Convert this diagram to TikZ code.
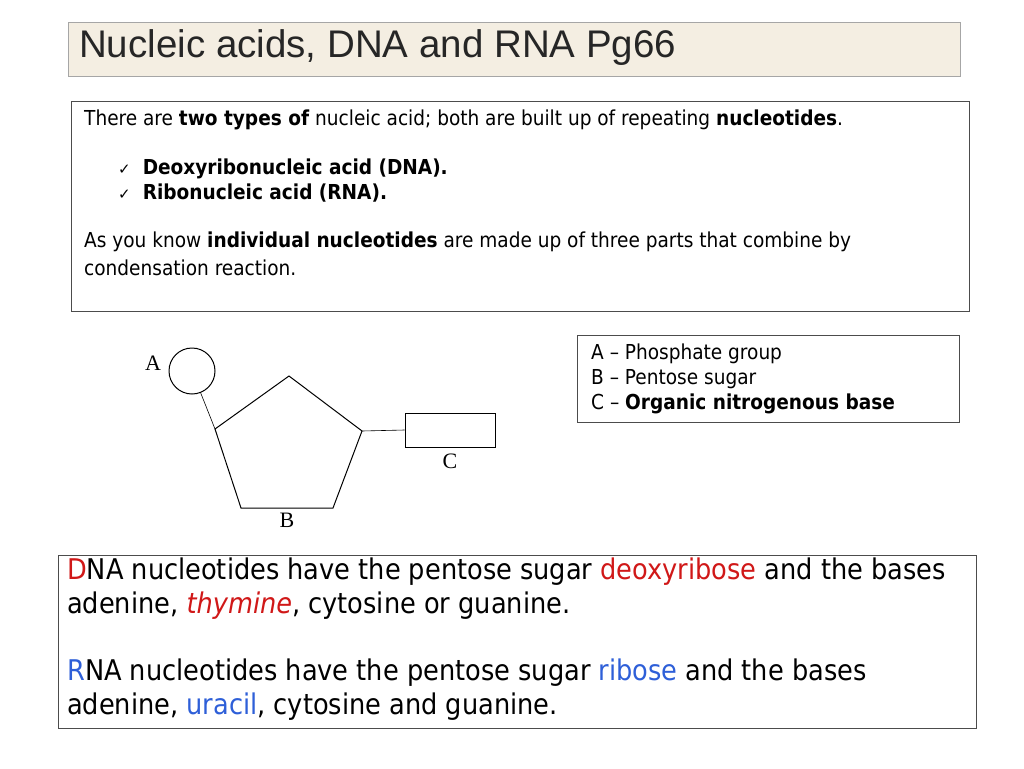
\documentclass[tikz,border=0pt]{standalone}
\usepackage{fontspec}
\setmainfont{DejaVu Sans Condensed}
\newfontfamily\titlefont{Liberation Sans}
\newfontfamily\serifl{Liberation Serif}
\newfontfamily\sym{DejaVu Sans}
\definecolor{dnared}{HTML}{D01818}
\definecolor{rnablue}{HTML}{2E5FD8}
\definecolor{titlefill}{HTML}{F4EEE2}
\begin{document}
\begin{tikzpicture}[x=1pt,y=-1pt,
  box/.style={draw=black!70,line width=0.8pt},
  lbl/.style={font=\serifl\fontsize{22}{22}\selectfont,inner sep=0pt},
  txt/.style={anchor=west,inner sep=0pt,font=\fontsize{20.6}{24}\selectfont},
  big/.style={anchor=west,inner sep=0pt,font=\fontsize{28.5}{32}\selectfont}]
\useasboundingbox (0,0) rectangle (1024,768);
% title
\node[box,draw=black!35,fill=titlefill,minimum width=892pt,minimum height=54pt,anchor=north west] (title) at (68,22) {};
\node[anchor=west,inner sep=0pt,font=\titlefont\fontsize{38.5}{40}\selectfont,text=black!85] (tt) at (79,48) {Nucleic acids, DNA and RNA Pg66};
% box 1
\node[box,minimum width=898pt,minimum height=210pt,anchor=north west] (b1) at (71,101) {};
\node[txt] (l1) at (84,120) {There are \textbf{two types of} nucleic acid; both are built up of repeating \textbf{nucleotides}.};
\node[txt] (c1) at (118,169) {{\sym\fontsize{15}{15}\selectfont ✓}\hspace{12pt}\textbf{Deoxyribonucleic acid (DNA).}};
\node[txt] (c2) at (118,193) {{\sym\fontsize{15}{15}\selectfont ✓}\hspace{12pt}\textbf{Ribonucleic acid (RNA).}};
\node[txt] (l3) at (84,242) {As you know \textbf{individual nucleotides} are made up of three parts that combine by};
\node[txt] (l4) at (84,268) {condensation reaction.};
% box 2
\node[box,minimum width=382pt,minimum height=87pt,anchor=north west] (b2) at (577,335) {};
\node[txt] (k1) at (591,354) {A – Phosphate group};
\node[txt] (k2) at (591,379) {B – Pentose sugar};
\node[txt] (k3) at (591,404) {C – \textbf{Organic nitrogenous base}};
% nucleotide
\coordinate (p1) at (289,376);
\coordinate (p2) at (362,431);
\coordinate (p3) at (333,508);
\coordinate (p4) at (241,508);
\coordinate (p5) at (215,429);
\draw[line width=1pt] (p1)--(p2)--(p3)--(p4)--(p5)--cycle;
\node[draw,line width=1pt,circle,minimum size=46pt,inner sep=0pt] (A) at (192,371) {};
\draw[line width=0.6pt] (A) -- (p5);
\node[draw,line width=1pt,minimum width=90pt,minimum height=34pt,inner sep=0pt] (C) at (450,430) {};
\draw[line width=0.6pt] (p2) -- (C.west);
\node[lbl] (la) at (153,363) {A};
\node[lbl] (lb) at (287,520) {B};
\node[lbl] (lc) at (450,461) {C};
% box 3
\node[box,minimum width=918pt,minimum height=173pt,anchor=north west] (b3) at (58,555) {};
\node[big] (d1) at (67,572) {\textcolor{dnared}{D}NA nucleotides have the pentose sugar \textcolor{dnared}{deoxyribose} and the bases};
\node[big] (d2) at (67,606) {adenine, \textcolor{dnared}{\textit{thymine}}, cytosine or guanine.};
\node[big] (r1) at (67,673) {\textcolor{rnablue}{R}NA nucleotides have the pentose sugar \textcolor{rnablue}{ribose} and the bases};
\node[big] (r2) at (67,707) {adenine, \textcolor{rnablue}{uracil}, cytosine and guanine.};
\end{tikzpicture}
\end{document}
